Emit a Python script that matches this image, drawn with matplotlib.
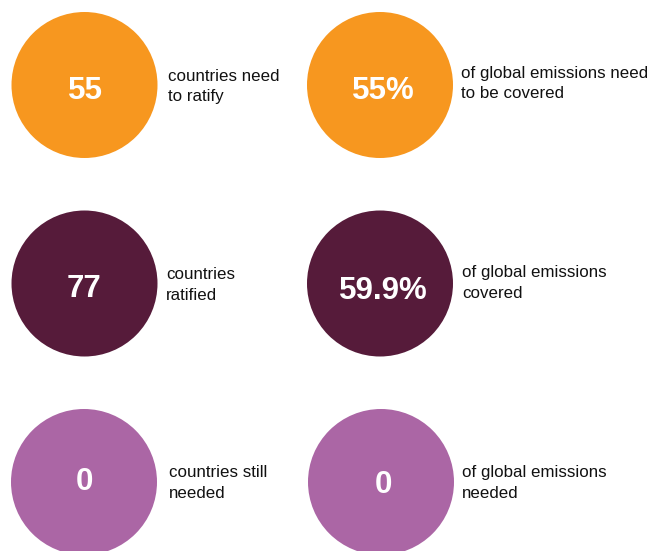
import matplotlib.pyplot as plt
from matplotlib.patches import Circle

plt.rcParams['font.family'] = ['Liberation Sans', 'DejaVu Sans']

# values shown in the circles
numbers = ["55", "55%", "77", "59.9%", "0", "0"]
labels = ["countries need\nto ratify", "of global emissions need\nto be covered",
          "countries\nratified", "of global emissions\ncovered",
          "countries still\nneeded", "of global emissions\nneeded"]
colors = ["#F7971F", "#F7971F", "#561B3A", "#561B3A", "#AB66A5", "#AB66A5"]

# layout in pixels (y measured from top)
cx = [84.5, 380, 84.5, 380, 84, 381]
cy = [85, 85, 283.5, 283.5, 482, 482]
num_x = [85, 383, 84, 383, 84, 383.5]
num_base = [99, 99, 297, 299, 490, 493]
lx = [168, 461, 166, 462, 169, 462]
lbase = [81, 78, 279, 277, 477, 477]
line_gap = 20.5
radius = 73

fig = plt.figure(figsize=(6.53, 5.51), dpi=100)
ax = fig.add_axes([0, 0, 1, 1])
ax.set_xlim(0, 653)
ax.set_ylim(551, 0)
ax.set_aspect('equal')
ax.axis('off')

for i in range(len(numbers)):
    ax.add_patch(Circle((cx[i], cy[i]), radius, color=colors[i], lw=0))
    ax.text(num_x[i], num_base[i], numbers[i], color="white", fontsize=22.5,
            fontweight="bold", ha="center", va="baseline")
    for j, line in enumerate(labels[i].split("\n")):
        ax.text(lx[i], lbase[i] + j * line_gap, line, color="#111111",
                fontsize=12.2, ha="left", va="baseline")

plt.savefig("out.png", dpi=100)
